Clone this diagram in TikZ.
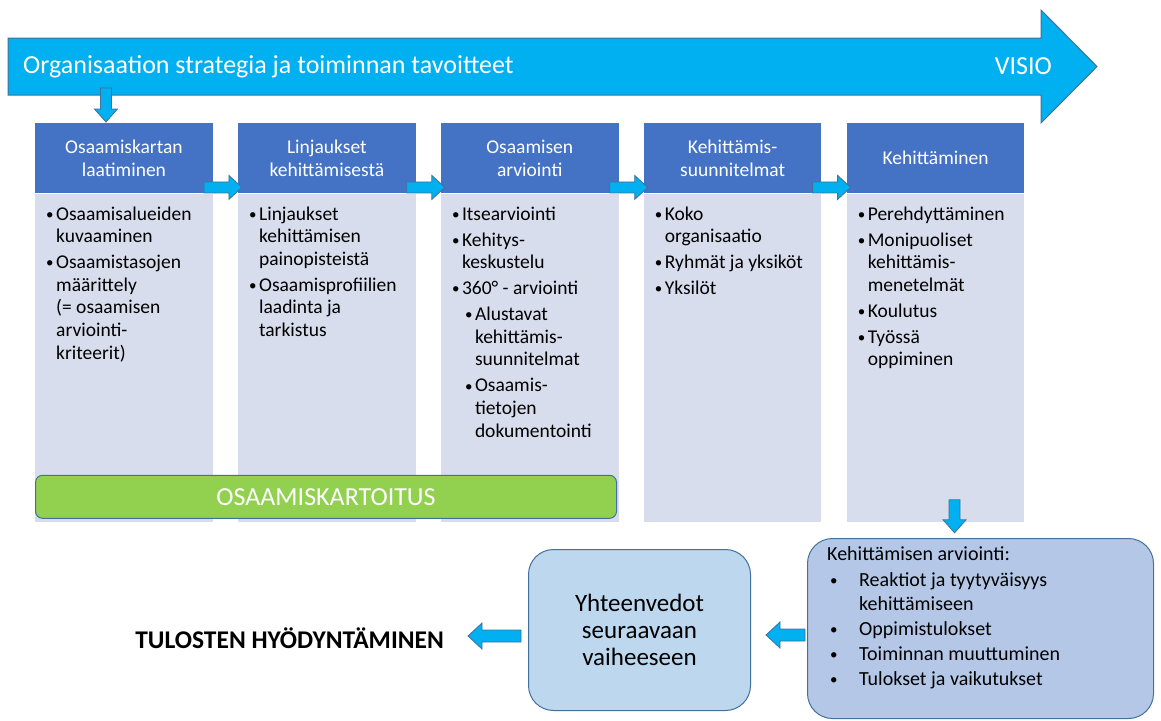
\documentclass[tikz,border=0pt]{standalone}
\usepackage{fontspec}
\setmainfont{Carlito}
\usetikzlibrary{calc, positioning}
\definecolor{Syaani}{RGB}{0,176,240}
\definecolor{Reuna}{RGB}{65,113,156}
\definecolor{Otsake}{RGB}{68,114,196}
\definecolor{Runko}{RGB}{216,221,237}
\definecolor{Vihrea}{RGB}{146,208,80}
\definecolor{Vaalea}{RGB}{189,215,238}
\definecolor{Harmaasini}{RGB}{180,199,231}
\tikzset{otsake/.style={rectangle, fill=Otsake, text=white, inner sep=0pt,
  minimum width=177.5pt, minimum height=70pt, align=center,
  font=\fontsize{19.5}{23}\selectfont}}
\tikzset{runko/.style={rectangle, fill=Runko, inner sep=0pt,
  minimum width=177.5pt, minimum height=328pt}}
\tikzset{lista/.style={anchor=north west, inner sep=0pt, align=left,
  font=\fontsize{19.5}{22.6}\selectfont}}
\tikzset{lohko/.style={draw=Reuna, fill=Syaani, line width=0.8pt, line join=miter}}
\tikzset{pyorea/.style={rectangle, rounded corners=25pt, draw=Reuna,
  line width=1pt, inner sep=0pt}}
\tikzset{iso/.style={inner sep=0pt, text=white, font=\fontsize{26}{30}\selectfont}}
\newcommand{\piste}{\raisebox{0.8pt}{\fontsize{15}{15}\selectfont\textbullet}}
\newcommand{\pallo}{\makebox[10pt][l]{\piste}}
\newcommand{\sis}{\hspace*{10pt}}
\newcommand{\npallo}{\makebox[32pt][l]{\hspace*{3pt}\piste}}
\newcommand{\oikealle}[2]{\draw[lohko] let \p1=#1, \p2=#2 in
  (\x1,\y2+5.5pt) -- (\x2-13pt,\y2+5.5pt) -- (\x2-13pt,\y2+12pt) -- (\x2,\y2)
  -- (\x2-13pt,\y2-12pt) -- (\x2-13pt,\y2-5.5pt) -- (\x1,\y2-5.5pt) -- cycle;}
\newcommand{\vasemmalle}[2]{\draw[lohko] let \p1=#1, \p2=#2 in
  (\x1,\y2+6pt) -- (\x2+14pt,\y2+6pt) -- (\x2+14pt,\y2+13pt) -- (\x2,\y2)
  -- (\x2+14pt,\y2-13pt) -- (\x2+14pt,\y2-6pt) -- (\x1,\y2-6pt) -- cycle;}
\newcommand{\alas}[2]{\draw[lohko] let \p1=#1, \p2=#2 in
  (\x1-5.5pt,\y1) -- (\x1-5.5pt,\y2+13pt) -- (\x1-11.5pt,\y2+13pt) -- (\x1,\y2)
  -- (\x1+11.5pt,\y2+13pt) -- (\x1+5.5pt,\y2+13pt) -- (\x1+5.5pt,\y1) -- cycle;}

\begin{document}
\begin{tikzpicture}[x=1pt, y=-1pt, node distance=25pt]
\useasboundingbox (0,0) rectangle (1161,720);
% strategia-nuoli
\draw[lohko, line width=1pt] (8,38) -- (1041,38) -- (1041,10) -- (1097,66.5)
  -- (1041,123) -- (1041,95) -- (8,95) -- cycle;
\node[iso, anchor=west] (strategia) at (23,66.5) {Organisaation strategia ja toiminnan tavoitteet};
\node[iso, anchor=east] (visio) at (1052,66.5) {VISIO};

\node[otsake, anchor=north west] (otsake1) at (35,123) {Osaamiskartan\\laatiminen};
\node[otsake, right=of otsake1] (otsake2) {Linjaukset\\kehittämisestä};
\node[otsake, right=of otsake2] (otsake3) {Osaamisen\\arviointi};
\node[otsake, right=of otsake3] (otsake4) {Kehittämis-\\suunnitelmat};
\node[otsake, right=of otsake4] (otsake5) {Kehittäminen};
\foreach \i in {1,...,5} {\node[runko, below=0pt of otsake\i] (runko\i) {};}

\node[lista] (lista1) at ([xshift=11pt,yshift=-13pt]runko1.north west)
  {\pallo Osaamisalueiden\\ \sis kuvaaminen\\[3.4pt]
   \pallo Osaamistasojen\\ \sis määrittely\\ \sis (= osaamisen\\ \sis arviointi-\\ \sis kriteerit)};
\node[lista] (lista2) at ([xshift=11pt,yshift=-13pt]runko2.north west)
  {\pallo Linjaukset\\ \sis kehittämisen\\ \sis painopisteistä\\[3.4pt]
   \pallo Osaamisprofiilien\\ \sis laadinta ja\\ \sis tarkistus};
\node[lista] (lista3) at ([xshift=11pt,yshift=-13pt]runko3.north west)
  {\pallo Itsearviointi\\[3.4pt]
   \pallo Kehitys-\\ \sis keskustelu\\[3.4pt]
   \pallo 360° - arviointi\\[3.4pt]
   \hspace*{13pt}\pallo Alustavat\\ \hspace*{23pt}kehittämis-\\ \hspace*{23pt}suunnitelmat\\[3.4pt]
   \hspace*{13pt}\pallo Osaamis-\\ \hspace*{23pt}tietojen\\ \hspace*{23pt}dokumentointi};
\node[lista] (lista4) at ([xshift=11pt,yshift=-13pt]runko4.north west)
  {\pallo Koko\\ \sis organisaatio\\[3.4pt]
   \pallo Ryhmät ja yksiköt\\[3.4pt]
   \pallo Yksilöt};
\node[lista] (lista5) at ([xshift=11pt,yshift=-13pt]runko5.north west)
  {\pallo Perehdyttäminen\\[3.4pt]
   \pallo Monipuoliset\\ \sis kehittämis-\\ \sis menetelmät\\[3.4pt]
   \pallo Koulutus\\[3.4pt]
   \pallo Työssä\\ \sis oppiminen};

\node[iso, anchor=south west, rectangle, rounded corners=7pt, fill=Vihrea, draw=Reuna,
  line width=1pt, minimum width=581pt, minimum height=43pt] (kartoitus)
  at ([yshift=3pt]runko1.south west) {OSAAMISKARTOITUS};

\alas{([xshift=-18pt,yshift=35pt]otsake1.north)}{([xshift=-18pt,yshift=1pt]otsake1.north)}
\foreach \i/\j in {1/2,2/3,3/4,4/5}
  {\oikealle{([xshift=-9pt,yshift=6pt]otsake\i.south east)}{([xshift=4pt,yshift=6pt]otsake\j.south west)}}
\alas{([xshift=19pt,yshift=22pt]runko5.south)}{([xshift=19pt,yshift=-11pt]runko5.south)}

\node[pyorea, fill=Harmaasini, minimum width=346pt, minimum height=180pt, anchor=north west]
  (arviointi) at (807,538) {};
\node[lista, font=\fontsize{20}{23.5}\selectfont] (arvlista) at ([xshift=20pt,yshift=-8pt]arviointi.north west)
  {Kehittämisen arviointi:\\[3pt]
   \npallo Reaktiot ja tyytyväisyys\\ \hspace*{32pt}kehittämiseen\\[1.5pt]
   \npallo Oppimistulokset\\[1.5pt]
   \npallo Toiminnan muuttuminen\\[1.5pt]
   \npallo Tulokset ja vaikutukset};
\node[pyorea, fill=Vaalea, minimum width=222pt, minimum height=161pt, anchor=north west,
  align=center, font=\fontsize{25}{27}\selectfont] (yhteenveto) at (528,549)
  {Yhteenvedot\\seuraavaan\\vaiheeseen};
\vasemmalle{([xshift=-2pt]arviointi.west)}{([xshift=15pt,yshift=-5pt]yhteenveto.east)}
\vasemmalle{([xshift=-7pt]yhteenveto.west)}{([xshift=-60pt,yshift=-6pt]yhteenveto.west)}
\node[anchor=east, inner sep=0pt, font=\fontsize{25.5}{30}\selectfont\bfseries] (tulokset)
  at ([xshift=-84pt,yshift=-8.5pt]yhteenveto.west) {TULOSTEN HYÖDYNTÄMINEN};
\end{tikzpicture}
\end{document}
